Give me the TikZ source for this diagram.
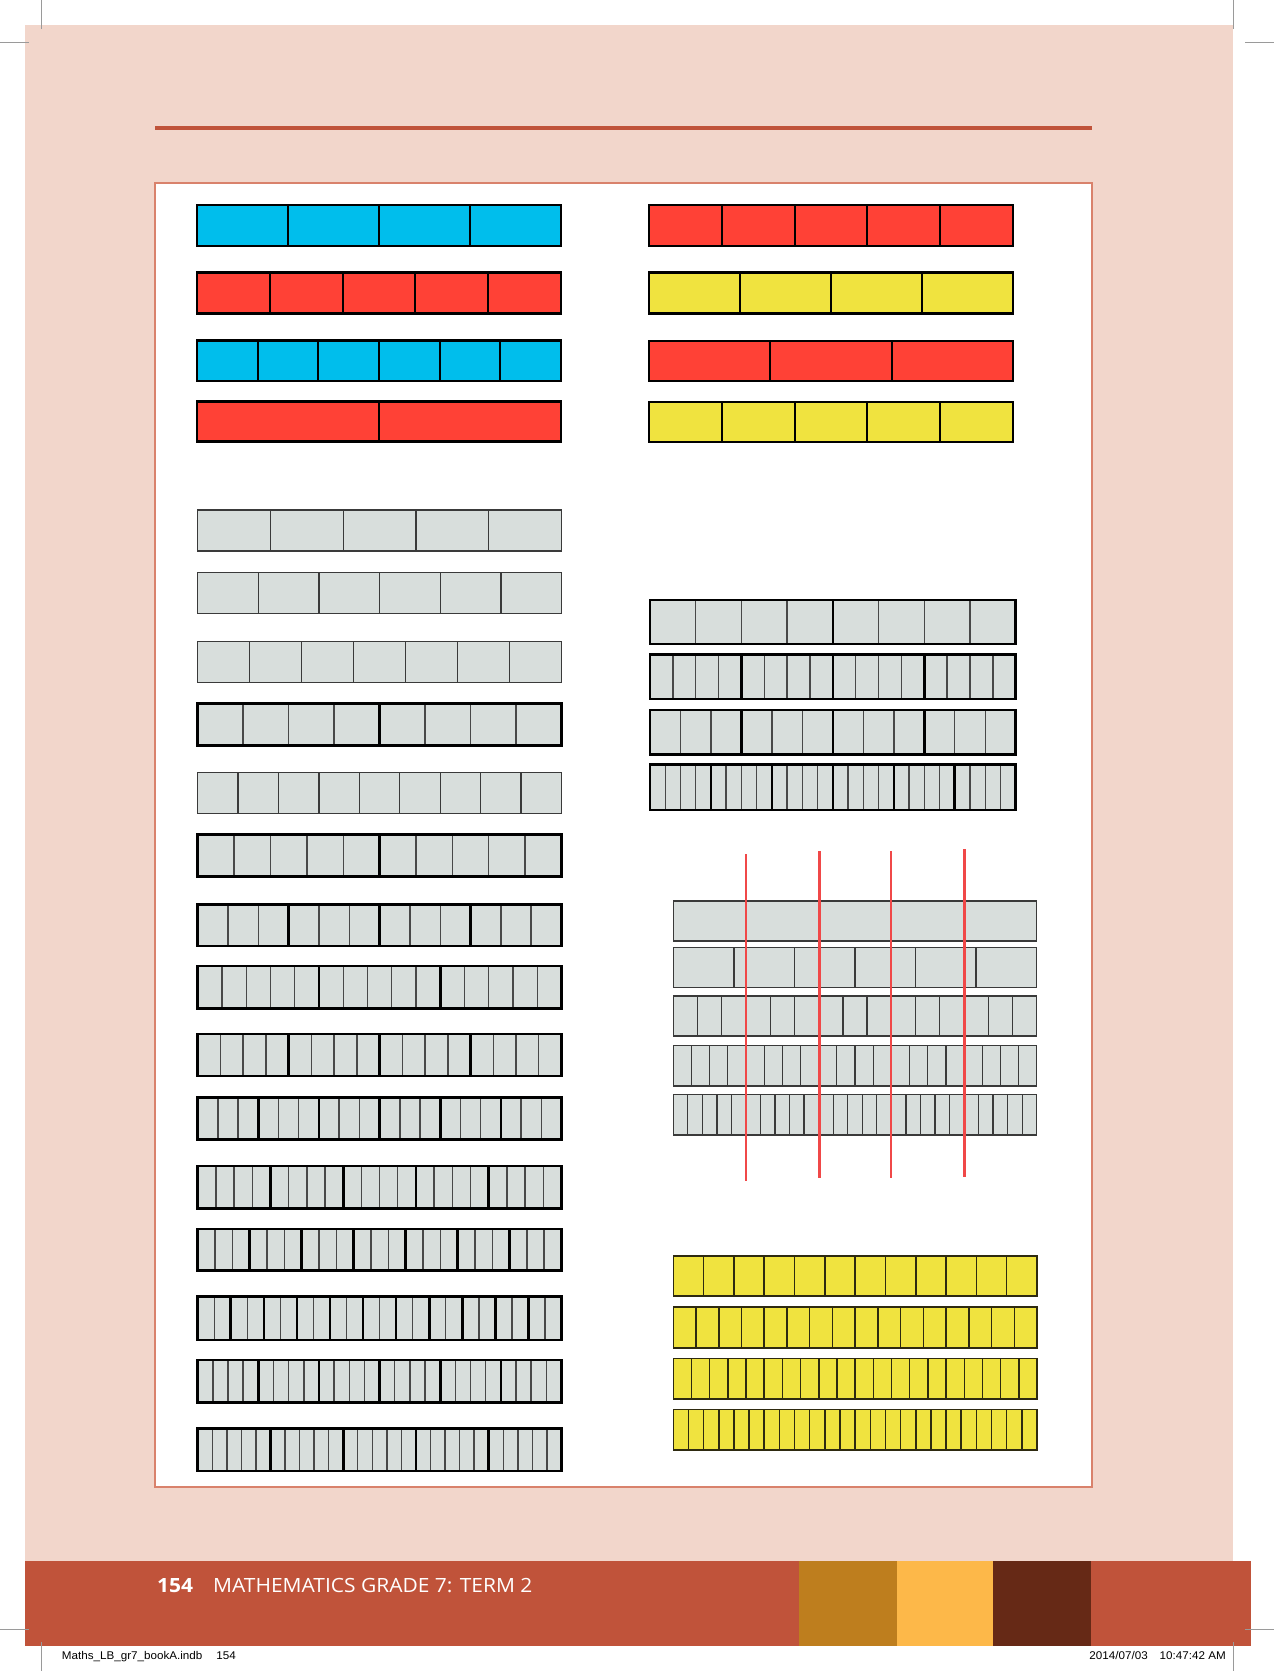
\documentclass[tikz,border=0pt]{standalone}
\usepackage{fontspec}
\newfontfamily\ftfont[FakeStretch=1.07]{Open Sans}
\newfontfamily\slugfont[FakeStretch=1.04]{Liberation Sans}
\definecolor{pinkbg}{HTML}{F2D6CB}
\definecolor{rust}{HTML}{C0533A}
\definecolor{gold}{HTML}{BE7E1E}
\definecolor{amber}{HTML}{FDB849}
\definecolor{brownd}{HTML}{662916}
\definecolor{skyb}{HTML}{00BEEC}
\definecolor{redb}{HTML}{FF4136}
\definecolor{yelb}{HTML}{F0E33F}
\definecolor{grayb}{HTML}{D8DEDC}
\definecolor{redline}{HTML}{F04848}
\definecolor{edgeg}{HTML}{3A3A3A}
\definecolor{inng}{HTML}{484848}
\definecolor{boxedge}{HTML}{D9826C}
\definecolor{cropg}{HTML}{9A9A9A}
\definecolor{yedge}{HTML}{2E2A10}
\tikzset{
  col-out/.style={line width=2.6pt,black},
  col-grp/.style={line width=2pt,black},
  col-in/.style={line width=2pt,black},
  thin-out/.style={line width=1.3pt,edgeg},
  thin-grp/.style={line width=1.3pt,edgeg},
  thin-in/.style={line width=1.3pt,edgeg},
  thk-out/.style={line width=2.8pt,black},
  thk-grp/.style={line width=2.6pt,black},
  thk-in/.style={line width=1.4pt,inng},
  yel-out/.style={line width=1.6pt,yedge},
  yel-grp/.style={line width=1.5pt,yedge},
  yel-in/.style={line width=1.5pt,yedge},
  redln/.style={line width=2.6pt,redline},
  crop/.style={line width=1pt,cropg}
}
% #1 x0 #2 x1 #3 y0 #4 y1 #5 cells #6 group #7 fill #8 kind
\newcommand\fbar[8]{%
  \fill[#7] (#1,#3) rectangle (#2,#4);
  \ifnum#5>1
  \pgfmathtruncatemacro\fbnm{#5-1}%
  \foreach \i in {1,...,\fbnm}{%
    \pgfmathsetmacro\fbx{#1+(#2-#1)*\i/#5}%
    \pgfmathtruncatemacro\fbg{mod(\i,#6)==0 ? 1 : 0}%
    \ifnum\fbg=1 \draw[#8-grp] (\fbx,#3) -- (\fbx,#4);
    \else \draw[#8-in] (\fbx,#3) -- (\fbx,#4);\fi
  }%
  \fi
  \draw[#8-out] (#1,#3) rectangle (#2,#4);
}
\begin{document}
\begin{tikzpicture}[x=1pt,y=-1pt]
\useasboundingbox (0,0) rectangle (1274,1671);
\fill[white] (0,0) rectangle (1274,1671);
% page background
\fill[pinkbg] (25,25) rectangle (1233,1561);
\fill[rust] (25,1561) rectangle (1251,1646);
\fill[gold] (799,1561) rectangle (897,1646);
\fill[amber] (897,1561) rectangle (993,1646);
\fill[brownd] (993,1561) rectangle (1091,1646);
% top rule
\fill[rust] (155,126) rectangle (1092,130);
% white panel
\draw[fill=white,draw=boxedge,line width=1.2pt] (155,183) rectangle (1092,1487);
% crop marks
\draw[crop] (41.5,0) -- (41.5,29);
\draw[crop] (1233,0) -- (1233,29);
\draw[crop] (0,42) -- (29,42);
\draw[crop] (1245,42) -- (1274,42);
\draw[crop] (0,1629) -- (29,1629);
\draw[crop] (1245,1629) -- (1274,1629);
\draw[crop] (41.5,1642) -- (41.5,1671);
\draw[crop] (1233,1642) -- (1233,1671);
% coloured bars, left
\fbar{197}{561}{205}{246}{4}{4}{skyb}{col}
\fbar{197}{561}{272.7}{313.7}{5}{5}{redb}{col}
\fbar{197}{561}{340.7}{381}{6}{6}{skyb}{col}
\fbar{197}{561}{401.7}{441.7}{2}{2}{redb}{col}
% coloured bars, right
\fbar{649}{1013}{205}{246}{5}{5}{redb}{col}
\fbar{649}{1013}{272.7}{313.7}{4}{4}{yelb}{col}
\fbar{649}{1013}{341}{381}{3}{3}{redb}{col}
\fbar{649}{1013}{402}{442}{5}{5}{yelb}{col}
% grey bars, left
\fbar{197.7}{561.5}{510}{551}{5}{5}{grayb}{thin}
\fbar{197.7}{561.5}{572.7}{613.3}{6}{6}{grayb}{thin}
\fbar{197.7}{561.5}{641.7}{682.3}{7}{7}{grayb}{thin}
\fbar{197.7}{561.5}{703.3}{745.7}{8}{4}{grayb}{thk}
\fbar{197.7}{561.5}{772.7}{813.3}{9}{9}{grayb}{thin}
\fbar{197.7}{561.5}{834.3}{876.7}{10}{5}{grayb}{thk}
\fbar{197.7}{561.5}{904.3}{946}{12}{3}{grayb}{thk}
\fbar{197.7}{561.5}{966}{1008.3}{15}{5}{grayb}{thk}
\fbar{197.7}{561.5}{1034}{1076}{16}{4}{grayb}{thk}
\fbar{197.7}{561.5}{1097.7}{1139.3}{18}{3}{grayb}{thk}
\fbar{197.7}{561.5}{1166}{1208.3}{20}{4}{grayb}{thk}
\fbar{197.7}{561.5}{1229}{1270.7}{21}{3}{grayb}{thk}
\fbar{197.7}{561.5}{1296.7}{1340}{22}{2}{grayb}{thk}
\fbar{197.7}{561.5}{1360}{1402.3}{24}{4}{grayb}{thk}
\fbar{197.7}{561.5}{1428.3}{1471}{25}{5}{grayb}{thk}
% grey bars, right
\fbar{650}{1015.7}{600}{644}{8}{4}{grayb}{thk}
\fbar{650}{1015.7}{654.3}{699}{16}{4}{grayb}{thk}
\fbar{650}{1015.7}{710}{754.3}{12}{3}{grayb}{thk}
\fbar{650}{1015.7}{764.3}{810}{24}{4}{grayb}{thk}
% fraction wall with red cuts
\fbar{673.3}{1036.7}{901}{941}{1}{1}{grayb}{thin}
\fbar{673.3}{1036.7}{947.7}{987.7}{6}{6}{grayb}{thin}
\fbar{673.3}{1036.7}{996}{1036}{15}{15}{grayb}{thin}
\fbar{673.3}{1036.7}{1045.7}{1086}{20}{20}{grayb}{thin}
\fbar{673.3}{1036.7}{1094.7}{1135}{25}{25}{grayb}{thin}
\coordinate (c1t) at (746,854);   \coordinate (c1b) at (746,1181);
\coordinate (c2t) at (819.3,851); \coordinate (c2b) at (819.3,1178);
\coordinate (c3t) at (891,851);   \coordinate (c3b) at (891,1178);
\coordinate (c4t) at (964.7,849); \coordinate (c4b) at (964.7,1177);
\draw[redln] (c1t) -- (c1b);
\draw[redln] (c2t) -- (c2b);
\draw[redln] (c3t) -- (c3b);
\draw[redln] (c4t) -- (c4b);
% yellow bars
\fbar{673.3}{1037}{1255.7}{1296}{12}{12}{yelb}{yel}
\fbar{673.3}{1037}{1306.7}{1347.7}{16}{16}{yelb}{yel}
\fbar{673.3}{1037}{1358.3}{1398.7}{20}{20}{yelb}{yel}
\fbar{673.3}{1037}{1409.3}{1450}{24}{24}{yelb}{yel}
% footer texts
\node[anchor=base west,inner sep=0,text=white,font=\ftfont\bfseries\fontsize{19.6}{20}\selectfont] (pagenum) at (157,1592.3) {154};
\node[anchor=base west,inner sep=0,text=white,font=\ftfont\fontsize{19.6}{20}\selectfont] (title) at (213,1592.3) {MATHEMATICS GRADE 7: TERM 2};
\node[anchor=base west,inner sep=0,text=black,font=\slugfont\fontsize{11.2}{12}\selectfont] (slug) at (61.7,1659) {Maths\_LB\_gr7\_bookA.indb\hspace{14pt}154};
\node[anchor=base east,inner sep=0,text=black,font=\slugfont\fontsize{11.2}{12}\selectfont] (stamp) at (1226,1659) {2014/07/03\hspace{12pt}10:47:42 AM};
\end{tikzpicture}
\end{document}
